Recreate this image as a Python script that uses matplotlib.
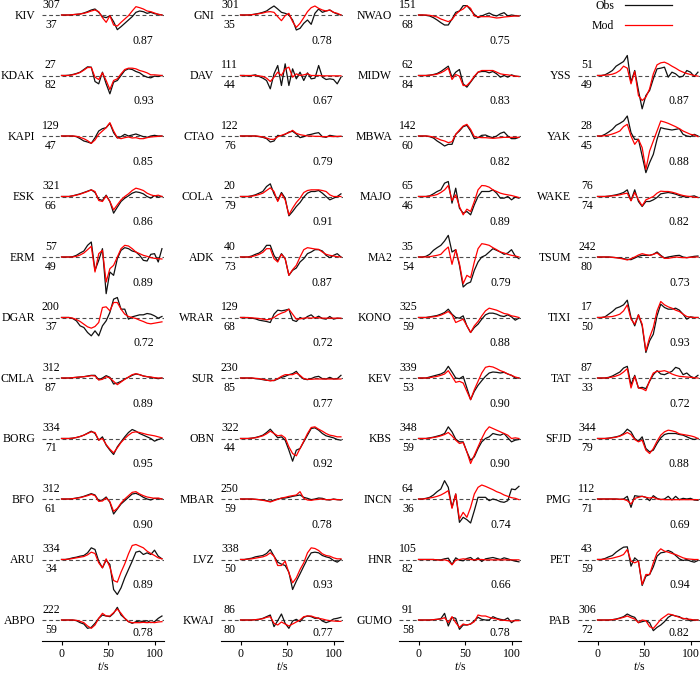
import matplotlib
matplotlib.use("Agg")
import matplotlib.pyplot as plt
from matplotlib.lines import Line2D
import numpy as np

plt.rcParams["font.family"] = ["Liberation Serif", "DejaVu Serif"]
plt.rcParams["mathtext.fontset"] = "custom"
plt.rcParams["mathtext.rm"] = "Liberation Serif"
plt.rcParams["mathtext.it"] = "Liberation Serif:italic"

# sample times of every trace (s)
T = np.arange(0, 109, 4)

# ---- column 1 ----
COL1_STATIONS = ["KIV", "KDAK", "KAPI", "ESK", "ERM", "DGAR", "CMLA", "BORG", "BFO", "ARU", "ABPO"]
COL1_AZ = [307, 27, 129, 321, 57, 200, 312, 334, 312, 334, 222]
COL1_DIST = [37, 82, 47, 66, 49, 37, 87, 71, 61, 34, 59]
COL1_CC = [0.87, 0.93, 0.85, 0.86, 0.89, 0.72, 0.89, 0.95, 0.90, 0.89, 0.78]
COL1_OBS = [
    [0,0,0,1,2,3,6,10,15,18,8,-5,-8,-2,-20,-44,-35,-25,-15,-5,8,12,10,5,8,4,2,0],            # KIV
    [0,0,1,3,6,10,18,26,25,-18,-25,10,-25,-55,-20,-15,0,15,20,18,12,8,0,-5,-7,-2,-3,0],      # KDAK
    [0,0,0,0,-2,-8,-15,-18,-22,-5,15,22,25,38,10,-6,-2,5,0,3,6,2,-2,-4,0,2,0,0],            # KAPI
    [0,0,0,2,5,8,12,16,20,12,-8,-12,4,-15,-50,-32,-15,-5,2,10,14,12,8,0,-5,3,-2,0],         # ESK
    [0,0,0,1,5,12,18,35,45,-40,-10,25,-110,-45,-55,-5,20,28,25,18,15,5,-10,-12,8,10,-15,25], # ERM
    [0,0,0,-3,-10,-25,-30,-45,-55,-40,-55,-25,-10,15,55,60,25,25,-5,2,5,8,8,12,10,5,-2,3],  # DGAR
    [0,0,0,1,2,3,4,6,8,8,-5,0,7,2,-18,-15,-10,-3,2,8,12,10,6,4,2,0,-2,0],                   # CMLA
    [0,0,0,1,3,6,10,16,22,15,-5,5,-20,-35,-48,-25,-10,5,18,27,22,15,10,5,0,-8,-3,0],        # BORG
    [0,0,0,1,3,5,8,12,16,12,-5,-3,6,-10,-45,-30,-15,-5,5,15,17,12,5,0,-3,2,1,0],            # BFO
    [0,0,2,5,7,10,12,20,35,30,-5,-25,-2,-15,-90,-105,-85,-55,-30,-5,22,25,15,20,15,28,10,2], # ARU
    [0,0,0,0,-2,-8,-12,-25,-22,-10,5,15,12,10,20,38,15,5,-5,-10,-5,-3,-5,-2,-8,-5,5,12],    # ABPO
]
COL1_MOD = [
    [0,0,0,1,2,3,5,8,12,15,10,-8,-22,-2,-30,-33,-22,-12,-2,12,25,22,18,12,10,6,2,0],
    [0,0,0,2,5,9,16,24,24,-5,-12,8,-15,-42,-15,-10,5,18,22,22,20,15,12,8,2,2,1,0],
    [0,0,0,0,-1,-4,-8,-14,-22,-12,5,15,25,40,15,-5,-8,-5,-3,-6,-5,-8,-8,-5,-3,-2,-1,0],
    [0,0,0,2,4,7,11,15,20,15,-12,-15,2,-15,-40,-25,-10,0,8,18,25,22,18,10,5,2,4,0],
    [0,0,0,0,2,6,12,22,32,-45,10,20,-75,-35,-25,0,25,35,33,25,15,10,5,2,-2,-4,-5,-6],
    [0,0,0,-2,-6,-12,-20,-28,-32,-27,-15,30,32,20,45,45,25,10,3,0,-3,-8,-12,-17,-19,-17,-15,-13],
    [0,0,0,1,2,3,4,5,7,6,-6,-4,4,0,-10,-20,-12,-4,3,10,13,10,6,4,3,1,0,0],
    [0,0,0,1,3,6,10,15,20,18,-5,0,-18,-32,-43,-28,-12,0,10,18,20,18,15,12,10,8,5,2],
    [0,0,0,1,2,4,7,10,14,10,-7,-6,3,-8,-37,-28,-12,0,10,20,22,15,10,6,4,2,3,0],
    [0,0,1,3,5,7,9,14,22,18,-10,-25,2,-23,-63,-68,-38,-13,17,42,45,40,35,25,18,12,5,2],
    [0,0,0,0,-1,-4,-8,-18,-25,-15,5,20,12,12,22,33,20,5,-5,-8,-8,-8,-7,-8,-7,-8,-6,-5],
]

# ---- column 2 ----
COL2_STATIONS = ["GNI", "DAV", "CTAO", "COLA", "ADK", "WRAR", "SUR", "OBN", "MBAR", "LVZ", "KWAJ"]
COL2_AZ = [301, 111, 122, 20, 40, 129, 230, 322, 250, 338, 86]
COL2_DIST = [35, 44, 76, 79, 73, 68, 85, 44, 59, 50, 80]
COL2_CC = [0.78, 0.67, 0.79, 0.91, 0.87, 0.72, 0.77, 0.92, 0.78, 0.93, 0.77]
COL2_OBS = [
    [0,0,0,1,3,5,8,12,20,27,18,8,5,0,-15,-45,-40,-25,-15,-28,5,18,8,12,15,8,3,0],           # GNI
    [0,0,-2,0,2,-3,-8,-15,-40,5,30,-30,35,-30,20,-10,10,-15,8,-10,-8,30,-5,-12,-10,-12,-25,-5], # DAV
    [0,0,0,0,0,-2,-4,-8,-18,-15,2,0,5,12,14,6,-5,-2,3,5,8,10,-2,-4,2,0,-2,-1],              # CTAO
    [0,0,0,2,5,10,15,30,38,8,-12,12,-5,-58,-45,-30,-18,-2,10,15,15,18,10,0,-10,-5,0,8],     # COLA
    [0,0,0,3,8,12,20,35,35,5,-12,10,-5,-55,-40,-33,-15,-5,10,15,22,22,18,5,-2,5,10,0],      # ADK
    [0,0,-1,-2,-4,-8,-10,-12,-15,10,22,20,22,25,-8,-12,0,-5,3,8,-2,4,-3,-5,3,-5,-2,-3],     # WRAR
    [0,0,0,0,-2,-3,-5,-7,-6,-8,-3,2,5,10,13,20,5,-3,-5,-2,3,5,-2,-3,2,-3,-2,8],             # SUR
    [0,0,0,1,3,6,10,18,28,15,2,5,-5,-35,-68,-35,-30,-10,10,30,32,25,15,8,5,2,-3,-5],        # OBN
    [0,0,0,0,-1,-2,-3,-5,-7,-3,0,2,3,5,8,10,12,5,2,-2,0,3,2,-2,-3,0,-2,-3],                 # MBAR
    [0,0,2,4,8,10,12,18,30,10,-8,-14,-18,-38,-90,-65,-43,-20,2,20,22,20,12,8,5,-3,-8,0],    # LVZ
    [0,0,0,0,1,2,5,10,15,-20,-2,18,-10,-25,-3,2,-5,8,12,10,5,6,-3,-8,-4,3,5,8],             # KWAJ
]
COL2_MOD = [
    [0,0,0,1,2,4,6,9,10,8,-5,-17,-2,5,-20,-37,-25,-8,10,22,27,20,15,12,15,8,5,0],
    [0,0,0,0,0,-1,-3,-8,-18,-5,10,0,20,25,-5,5,0,2,5,0,0,0,-1,-1,-1,-1,-1,-1],
    [0,0,0,0,0,-1,-3,-6,-10,-10,-2,2,6,10,17,8,4,2,0,0,-1,-1,-2,-2,-1,-2,-1,-1],
    [0,0,0,1,3,6,10,18,26,15,-15,8,-10,-55,-35,-18,-5,12,18,20,20,20,18,15,5,0,0,0],
    [0,0,0,1,4,8,14,25,25,-5,-15,8,-5,-55,-38,-25,0,22,28,26,24,23,15,8,5,3,1,0],
    [0,0,0,-1,-2,-3,-5,-7,-5,0,8,13,17,25,10,-5,-4,-2,-1,-2,0,-1,-2,-2,-2,-2,-2,-2],
    [0,0,0,0,-1,-2,-4,-6,-9,-7,-2,5,10,10,10,15,8,-2,-4,-4,-3,-3,-3,-3,-3,-3,-3,-3],
    [0,0,0,1,2,5,8,14,22,15,8,10,2,-25,-45,-52,-30,-8,15,33,35,28,22,15,10,8,5,5],
    [0,0,0,0,-1,-2,-4,-6,-9,-5,-1,3,5,8,10,12,22,2,-3,-4,-2,-1,0,-2,-2,-1,-2,-2],
    [0,0,1,2,4,6,8,12,20,10,-18,-18,-5,-40,-70,-55,-30,-10,20,35,33,27,17,12,10,5,2,2],
    [0,0,0,0,1,2,4,8,10,-10,-15,-6,-12,-18,-12,-6,0,10,12,12,8,5,3,0,-2,-3,-4,-4],
]

# ---- column 3 ----
COL3_STATIONS = ["NWAO", "MIDW", "MBWA", "MAJO", "MA2", "KONO", "KEV", "KBS", "INCN", "HNR", "GUMO"]
COL3_AZ = [151, 62, 142, 65, 35, 325, 339, 348, 64, 105, 91]
COL3_DIST = [68, 84, 60, 46, 54, 59, 53, 59, 36, 82, 58]
COL3_CC = [0.75, 0.83, 0.82, 0.89, 0.79, 0.88, 0.90, 0.90, 0.74, 0.66, 0.78]
COL3_OBS = [
    [0,0,-1,-3,-8,-15,-23,-30,-30,-12,8,12,28,28,15,2,-8,-3,2,6,0,-3,3,7,-3,0,-2,-3],       # NWAO
    [0,0,0,1,3,6,12,20,28,-5,10,18,-25,-35,-20,-5,10,12,12,8,12,5,-5,0,-5,2,-2,-3],         # MIDW
    [0,0,0,-2,-6,-15,-22,-30,-25,-25,5,15,28,32,15,-8,-5,2,3,-2,-5,0,8,12,0,-8,-8,-4],      # MBWA
    [0,0,0,2,8,15,20,40,45,-20,25,-35,-50,-45,-55,-25,0,15,15,15,20,10,-5,-5,0,-10,-2,-5],  # MAJO
    [0,0,2,8,20,28,35,48,65,15,22,-25,-90,-80,-75,-40,-15,0,5,15,25,20,15,8,12,22,3,-5],    # MA2
    [0,0,0,2,4,6,10,15,25,10,0,-2,5,-25,-45,-30,-20,-5,8,13,13,10,5,3,8,2,-8,-2],           # KONO
    [0,0,0,3,6,9,12,18,35,18,0,-2,5,-30,-65,-40,-22,-8,5,15,18,17,15,17,12,8,0,0],          # KEV
    [0,0,0,2,4,7,10,15,35,20,-2,-10,-10,-40,-65,-55,-30,-10,0,5,15,12,10,15,2,-10,-5,-3],   # KBS
    [0,0,2,5,12,22,30,55,35,-25,15,-70,-55,-62,-72,-35,5,5,5,-5,0,-3,-8,-10,-5,30,28,38],   # INCN
    [0,0,0,0,0,-1,-1,2,4,-15,5,-2,-4,3,6,-3,5,-6,2,4,6,3,0,5,2,-2,-5,-7],                   # HNR
    [0,0,0,0,1,2,4,20,-18,8,5,-28,-15,-15,-12,-2,8,2,0,0,10,5,2,0,6,-8,0,0],                # GUMO
]
COL3_MOD = [
    [0,0,0,-1,-3,-6,-12,-16,-20,-14,2,12,18,28,20,-3,-5,-5,-5,-5,-7,-9,-8,-6,-5,-4,-3,-3],
    [0,0,0,1,2,4,8,14,22,-12,3,-2,-30,-30,-18,-2,10,15,15,15,15,10,5,3,2,0,-2,-3],
    [0,0,0,-1,-3,-7,-12,-15,-20,-17,5,18,30,35,20,-2,-4,-5,-5,-6,-7,-6,-5,-4,-4,-4,-4,-4],
    [0,0,0,1,3,6,12,20,33,-12,5,-30,-55,-38,-45,-15,20,33,32,28,20,15,10,7,5,3,0,-3],
    [0,0,0,1,3,5,8,20,30,-22,22,-20,-80,-55,-62,-15,25,40,38,35,28,22,15,12,8,5,3,0],
    [0,0,0,1,2,4,7,12,18,8,-15,-10,-5,-25,-45,-25,-12,5,20,28,25,22,17,12,10,5,3,0],
    [0,0,0,1,3,5,8,12,22,5,-13,-10,-15,-40,-65,-35,-10,15,32,35,33,28,22,18,12,8,3,0],
    [0,0,0,1,3,5,8,12,18,8,-5,-15,-12,-40,-75,-50,-25,0,22,35,30,25,20,15,10,0,2,0],
    [0,0,1,3,5,8,12,18,25,-28,15,-60,-40,-55,-25,15,35,42,38,33,28,22,18,12,8,4,2,-2],
    [0,0,0,0,0,-1,-2,-1,-4,-16,-2,0,2,1,0,-1,0,0,-1,-1,-1,-1,-1,-1,-1,-1,-1,-1],
    [0,0,0,0,1,2,3,7,-8,10,-8,-22,-12,-15,-12,-5,15,12,12,8,5,3,0,-1,-2,-3,-2,-2],
]

# ---- column 4 (first row holds the legend) ----
COL4_STATIONS = ["YSS", "YAK", "WAKE", "TSUM", "TIXI", "TAT", "SFJD", "PMG", "PET", "PAB"]
COL4_AZ = [51, 28, 76, 242, 17, 87, 344, 112, 43, 306]
COL4_DIST = [49, 45, 74, 80, 50, 33, 79, 71, 59, 72]
COL4_CC = [0.87, 0.88, 0.82, 0.73, 0.93, 0.72, 0.88, 0.69, 0.94, 0.82]
COL4_OBS = [
    [0,0,2,8,15,28,35,42,60,-20,15,-45,-100,-60,-45,-10,20,22,25,-5,10,5,-5,-2,15,10,-3,10], # YSS
    [0,0,5,12,20,32,38,45,60,10,-10,-10,-60,-110,-80,-55,-10,25,22,20,18,20,22,5,0,-2,5,0], # YAK
    [0,0,0,1,3,5,8,12,20,-12,20,-15,-30,-15,-15,-10,-3,8,10,12,10,7,3,0,-2,0,2,-3],         # WAKE
    [0,0,0,0,-1,-2,-3,-5,-7,-8,-3,2,5,5,5,8,15,5,-3,0,2,4,5,0,-2,0,2,3],                    # TSUM
    [0,0,2,10,18,28,32,38,52,0,-25,8,-25,-105,-70,-50,5,40,30,25,25,28,22,10,-5,2,0,0],     # TIXI
    [0,0,0,2,6,12,18,30,35,-20,8,-30,-28,-32,-10,10,22,12,10,15,20,32,28,10,15,5,0,8],      # TAT
    [0,0,0,1,3,5,8,15,28,20,0,-8,5,-30,-40,-35,-15,2,12,15,15,15,12,10,5,0,-3,0],           # SFJD
    [0,0,0,0,0,0,-1,0,8,-25,10,8,8,5,-5,10,2,-2,0,8,-3,8,-2,2,0,2,-3,-4],                   # PMG
    [0,0,3,8,12,22,30,37,38,-20,5,-5,-78,-50,-45,-22,10,20,22,27,22,12,2,-3,0,-5,-8,-3],    # PET
    [0,0,0,0,1,3,6,10,18,12,8,-8,-5,-2,-8,-32,-22,-15,-5,8,15,12,10,3,5,-3,0,0],            # PAB
]
COL4_MOD = [
    [0,0,1,2,4,8,15,28,22,-25,12,-60,-75,-65,-40,5,32,38,40,35,28,22,15,10,6,3,0,-2],
    [0,0,1,3,6,10,15,28,35,0,-25,-10,-35,-100,-45,-15,15,45,42,38,33,28,22,15,10,5,3,-2],
    [0,0,0,1,2,3,5,8,10,-13,12,-10,-28,-10,-5,0,10,16,15,15,13,10,6,3,1,0,-2,-3],
    [0,0,0,0,-1,-2,-4,-6,-9,-5,0,6,10,7,5,8,12,3,-4,-4,-2,0,-1,-2,-2,-1,0,0],
    [0,0,1,2,3,6,10,20,38,-5,-20,8,-20,-100,-60,-30,20,48,38,32,28,22,18,10,3,1,0,0],
    [0,0,0,1,3,6,10,18,28,-30,5,-30,-32,-38,-8,15,20,20,22,18,12,8,5,4,3,2,1,0],
    [0,0,0,1,2,4,7,12,18,12,-3,-10,-5,-35,-45,-30,-8,10,20,25,23,20,14,12,10,8,5,0],
    [0,0,0,0,0,0,-1,-1,-5,-15,2,5,8,5,3,5,0,-1,-2,-2,-2,-2,-2,-2,-2,-2,-2,-2],
    [0,0,1,2,4,7,10,15,30,-5,-10,-5,-75,-45,-45,-10,20,32,25,22,18,15,10,5,2,1,0,0],
    [0,0,0,0,1,2,5,8,12,7,3,-8,0,-2,-20,-25,-12,2,10,18,16,12,8,5,3,2,0,0],
]

COLUMNS = [
    (COL1_STATIONS, COL1_AZ, COL1_DIST, COL1_CC, COL1_OBS, COL1_MOD, 0),
    (COL2_STATIONS, COL2_AZ, COL2_DIST, COL2_CC, COL2_OBS, COL2_MOD, 0),
    (COL3_STATIONS, COL3_AZ, COL3_DIST, COL3_CC, COL3_OBS, COL3_MOD, 0),
    (COL4_STATIONS, COL4_AZ, COL4_DIST, COL4_CC, COL4_OBS, COL4_MOD, 1),
]

# layout, in pixels of the 700x673 canvas
W, H = 700, 673
LEFTS = [42, 221, 399, 578]
AX_W = 122
AX_BOTTOM = 641
ROW0, ROW_STEP = 15.0, 60.5
N_ROWS = 11
GAIN = 1 / 3.0
T_LIM = (-21, 110.2)
FS = 8.5
LW = 0.9

fig = plt.figure(figsize=(W / 100, H / 100), dpi=100)

for left, (names, az, dist, cc, obs, mod, first_row) in zip(LEFTS, COLUMNS):
    ax = fig.add_axes([left / W, (H - AX_BOTTOM) / H, AX_W / W, AX_BOTTOM / H])
    ax.set_xlim(*T_LIM)
    ax.set_ylim(-AX_BOTTOM, 0)
    for k, name in enumerate(names):
        row = first_row + k
        base = -(ROW0 + ROW_STEP * row)
        ax.axhline(base, color="0.3", lw=0.8, ls=(0, (3.5, 2.5)), zorder=1)
        ax.plot(T, base + np.array(obs[k]) * GAIN, color="#111111", lw=LW,
                clip_on=False, zorder=2)
        ax.plot(T, base + np.array(mod[k]) * GAIN, color="red", lw=LW,
                clip_on=False, zorder=3)
        ax.text(-28.5, base - 3.9, name, ha="right", va="baseline", fontsize=FS)
        ax.text(-11.5, base + 7.2, str(az[k]), ha="center", va="baseline", fontsize=FS)
        ax.text(-11.5, base - 12.8, str(dist[k]), ha="center", va="baseline", fontsize=FS)
        cc_y = base - 16.3 if row == N_ROWS - 1 else base - 28.8
        ax.text(88, cc_y, f"{cc[k]:.2f}", ha="center", va="baseline", fontsize=FS)

    for side in ("left", "right", "top"):
        ax.spines[side].set_visible(False)
    ax.spines["bottom"].set_linewidth(0.8)
    ax.set_yticks([])
    ax.set_xticks([0, 50, 100])
    ax.tick_params(axis="x", labelsize=FS, length=3, width=0.8, pad=2)
    ax.set_xlabel(r"$t$/s", fontsize=FS, labelpad=1)

handles = [Line2D([], [], color="#111111", lw=LW, label="Obs"),
           Line2D([], [], color="red", lw=LW, label="Mod")]
fig.legend(handles=handles, loc="upper right", bbox_to_anchor=(672 / W, 1.0),
           frameon=False, markerfirst=False, fontsize=FS, handlelength=4.0,
           handletextpad=0.9, borderpad=0, borderaxespad=0, labelspacing=0.7)

fig.savefig("out.png", dpi=100)
